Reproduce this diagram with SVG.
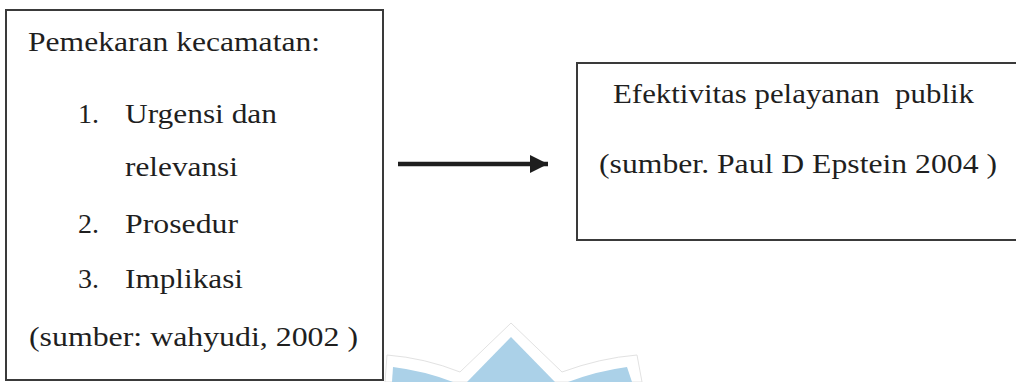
<svg xmlns="http://www.w3.org/2000/svg" width="1016" height="382" viewBox="0 0 1016 382">
<style>
.box{fill:#fff;stroke:#3a3a3a;stroke-width:2}
.t{font-family:"Liberation Serif","Times New Roman",serif;font-size:28px;fill:#1f1f1f}
.conn{stroke:#1e1e1e;stroke-width:4.5;fill:none}
</style>
<defs>
<marker id="ah" markerUnits="userSpaceOnUse" markerWidth="20" markerHeight="20" refX="18" refY="9" orient="auto">
<path d="M0,0 L18,9 L0,18 Z" fill="#1e1e1e"/>
</marker>
</defs>
<rect width="1016" height="382" fill="#fff"/>
<g id="watermark">
<path d="M511,323 L562,372 Q600,358 637,355 L642,382 L385,382 L387,355 Q425,358 460,372 Z" fill="none" stroke="#e2e2e2" stroke-width="1"/>
<path d="M511,337 L555,382 L467,382 Z" fill="#abd1e8"/>
<path d="M393,367 Q425,371 453,382 L392,382 Z" fill="#abd1e8"/>
<path d="M627,367 Q597,371 568,382 L632,382 Z" fill="#abd1e8"/>
</g>
<g id="node-pemekaran">
<rect class="box" x="6" y="10" width="377" height="370"/>
<text class="t" x="28" y="51" textLength="292" lengthAdjust="spacingAndGlyphs">Pemekaran kecamatan:</text>
<text class="t" x="78" y="123">1.</text>
<text class="t" x="125" y="123" textLength="152" lengthAdjust="spacingAndGlyphs">Urgensi dan</text>
<text class="t" x="125" y="176" textLength="113" lengthAdjust="spacingAndGlyphs">relevansi</text>
<text class="t" x="78" y="233">2.</text>
<text class="t" x="125" y="233" textLength="113" lengthAdjust="spacingAndGlyphs">Prosedur</text>
<text class="t" x="78" y="288">3.</text>
<text class="t" x="125" y="288" textLength="118" lengthAdjust="spacingAndGlyphs">Implikasi</text>
<text class="t" x="29" y="346" textLength="329" lengthAdjust="spacingAndGlyphs">(sumber: wahyudi, 2002 )</text>
</g>
<g id="node-efektivitas">
<rect class="box" x="577" y="63" width="441" height="177"/>
<text class="t" x="613" y="103" textLength="361" lengthAdjust="spacingAndGlyphs" xml:space="preserve">Efektivitas pelayanan  publik</text>
<text class="t" x="599" y="173" textLength="398" lengthAdjust="spacingAndGlyphs">(sumber. Paul D Epstein 2004 )</text>
</g>
<g id="connectors">
<line class="conn" x1="398" y1="164" x2="548" y2="164" marker-end="url(#ah)"/>
</g>
</svg>
